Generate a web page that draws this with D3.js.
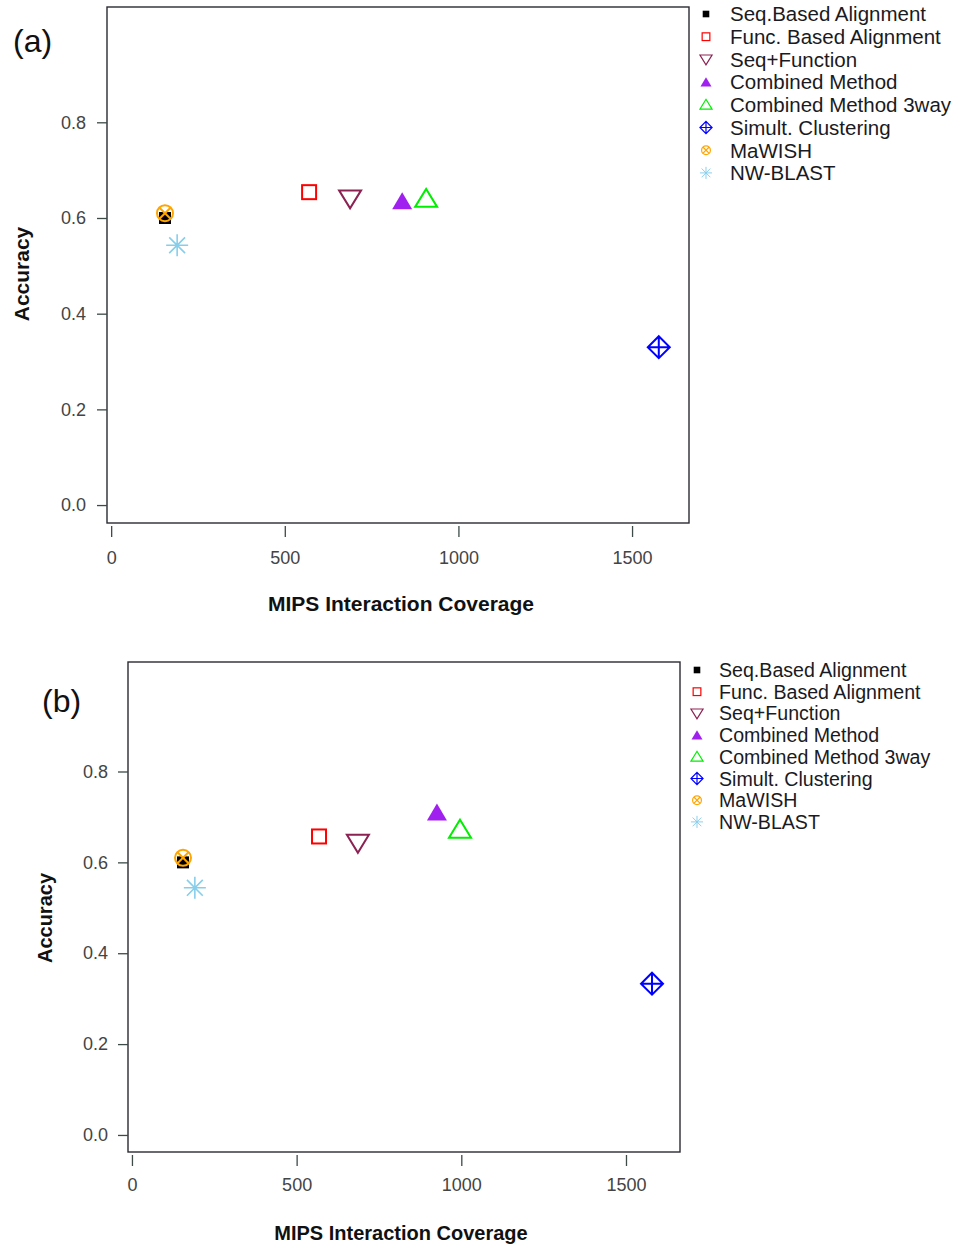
<!DOCTYPE html>
<html>
<head>
<meta charset="utf-8">
<script src="https://cdn.jsdelivr.net/npm/d3@7/dist/d3.min.js"></script>
<style>
  body { margin: 0; background: #fff; }
  svg { display: block; font-family: "Liberation Sans", Arial, sans-serif; }
  .tick text { fill: #444; font-size: 18px; }
  .tick line { stroke: #3d4a48; stroke-width: 1.3; }
</style>
</head>
<body>
<svg id="chart" width="962" height="1248"></svg>
<script>
// Methods, in legend order
const methods = [
  'Seq.Based Alignment', 'Func. Based Alignment', 'Seq+Function', 'Combined Method',
  'Combined Method 3way', 'Simult. Clustering', 'MaWISH', 'NW-BLAST'
];
const symbolTypes = [
  'squareFilled', 'squareOpen', 'triDown', 'triFilled',
  'triOpen', 'diamondPlus', 'circleX', 'asterisk'
];
const methodColors = [
  '#000000', '#ff0000', '#8b2252', '#a020f0',
  '#00ee00', '#0000ff', '#ffa500', '#87ceeb'
];

// panel (a)
const coverageA = [155, 570, 688, 838, 907, 1577, 155, 190];
const accuracyA = [0.600, 0.654, 0.641, 0.635, 0.640, 0.330, 0.610, 0.543];
// panel (b)
const coverageB = [155, 568, 686, 926, 996, 1579, 155, 191];
const accuracyB = [0.600, 0.657, 0.643, 0.710, 0.672, 0.333, 0.610, 0.544];

const xTicks = [0, 500, 1000, 1500];
const yTicks = [0.0, 0.2, 0.4, 0.6, 0.8];
const xLim = [-12, 1664];
const yLim = [-0.0375, 1.041];

const svg = d3.select('#chart');

/**
 * Draw one R-style plotting symbol centred at (0,0), k scales its size.
 */
const drawSymbol = (g, type, color, k) => {
  const sw = 2 * Math.max(k, 0.6);
  if (type === 'squareFilled') {
    g.append('rect').attr('x', -6 * k).attr('y', -6 * k)
      .attr('width', 12 * k).attr('height', 12 * k).attr('fill', color);
  } else if (type === 'squareOpen') {
    g.append('rect').attr('x', -7 * k).attr('y', -7 * k)
      .attr('width', 14 * k).attr('height', 14 * k)
      .attr('fill', 'none').attr('stroke', color).attr('stroke-width', sw);
  } else if (type === 'triDown') {
    g.append('path')
      .attr('d', `M${-11 * k},${-8 * k}L${11 * k},${-8 * k}L0,${10 * k}Z`)
      .attr('fill', 'none').attr('stroke', color).attr('stroke-width', sw);
  } else if (type === 'triFilled') {
    g.append('path')
      .attr('d', `M${-10 * k},${8 * k}L${10 * k},${8 * k}L0,${-9 * k}Z`)
      .attr('fill', color);
  } else if (type === 'triOpen') {
    g.append('path')
      .attr('d', `M${-11 * k},${8 * k}L${11 * k},${8 * k}L0,${-10 * k}Z`)
      .attr('fill', 'none').attr('stroke', color).attr('stroke-width', sw);
  } else if (type === 'diamondPlus') {
    const r = 11 * k;
    g.append('path')
      .attr('d', `M0,${-r}L${r},0L0,${r}L${-r},0Z M0,${-r}L0,${r} M${-r},0L${r},0`)
      .attr('fill', 'none').attr('stroke', color).attr('stroke-width', sw);
  } else if (type === 'circleX') {
    const r = 8 * k, d = r * 0.72;
    g.append('circle').attr('r', r)
      .attr('fill', 'none').attr('stroke', color).attr('stroke-width', sw);
    g.append('path')
      .attr('d', `M${-d},${-d}L${d},${d}M${-d},${d}L${d},${-d}`)
      .attr('stroke', color).attr('stroke-width', sw);
  } else if (type === 'asterisk') {
    const r = 11 * k, d = r * 0.72;
    g.append('path')
      .attr('d', `M0,${-r}L0,${r}M${-r},0L${r},0M${-d},${-d}L${d},${d}M${-d},${d}L${d},${-d}`)
      .attr('stroke', color).attr('stroke-width', sw * 0.8);
  }
};

/**
 * Draw one panel: box, axes, points, labels and legend.
 */
const drawPanel = (p) => {
  const x = d3.scaleLinear().domain(xLim).range([p.left, p.right]);
  const y = d3.scaleLinear().domain(yLim).range([p.bottom, p.top]);

  // Box
  svg.append('rect')
    .attr('x', p.left).attr('y', p.top)
    .attr('width', p.right - p.left).attr('height', p.bottom - p.top)
    .attr('fill', 'none').attr('stroke', '#2a2a33').attr('stroke-width', 1.4);

  // Y axis
  let yAxis = svg.append('g')
    .attr('transform', `translate(${p.left}, 0)`)
    .call(d3.axisLeft(y).tickValues(yTicks).tickSize(10)
      .tickPadding(p.yPad).tickFormat(d3.format('.1f')));
  yAxis.select('.domain').remove();
  yAxis.selectAll('text').attr('font-family', null).attr('font-size', null);

  // X axis (ticks detached from the box, R style)
  let xAxis = svg.append('g')
    .attr('transform', `translate(0, ${p.bottom + 3})`)
    .call(d3.axisBottom(x).tickValues(xTicks).tickSize(11)
      .tickPadding(p.xPad).tickFormat(d3.format('d')));
  xAxis.select('.domain').remove();
  xAxis.selectAll('text').attr('font-family', null).attr('font-size', null);

  // Axis titles
  svg.append('text')
    .attr('x', 401).attr('y', p.xTitleY)
    .attr('text-anchor', 'middle')
    .attr('font-weight', 'bold').attr('font-size', p.titleSize)
    .attr('fill', '#111')
    .text('MIPS Interaction Coverage');

  svg.append('text')
    .attr('transform', `translate(${p.yTitleX}, ${p.yTitleY}) rotate(-90)`)
    .attr('text-anchor', 'middle')
    .attr('font-weight', 'bold').attr('font-size', p.titleSize)
    .attr('fill', '#111')
    .text('Accuracy');

  // Panel letter
  svg.append('text')
    .attr('x', p.letterX).attr('y', p.letterY)
    .attr('font-size', 32).attr('fill', '#111')
    .text(p.letter);

  // Points
  let points = svg.append('g').attr('class', 'points');
  methods.forEach((m, i) => {
    let g = points.append('g')
      .attr('transform', `translate(${x(p.coverage[i])}, ${y(p.accuracy[i])})`);
    drawSymbol(g, symbolTypes[i], methodColors[i], 1);
  });

  // Legend
  let legend = svg.append('g').attr('class', 'legend');
  methods.forEach((m, i) => {
    let cy = p.legendY + i * p.legendStep;
    let g = legend.append('g')
      .attr('transform', `translate(${p.legendMarkX}, ${cy})`);
    drawSymbol(g, symbolTypes[i], methodColors[i], 0.55);
    legend.append('text')
      .attr('x', p.legendTextX).attr('y', cy + p.legendSize * 0.36)
      .attr('font-size', p.legendSize).attr('fill', '#1a1a22')
      .text(m);
  });
};

drawPanel({
  left: 107, right: 689, top: 7, bottom: 523,
  coverage: coverageA, accuracy: accuracyA,
  yPad: 11, xPad: 14,
  xTitleY: 611, yTitleX: 29, yTitleY: 274, titleSize: 21,
  letter: '(a)', letterX: 13, letterY: 52,
  legendY: 14, legendStep: 22.7, legendMarkX: 706, legendTextX: 730, legendSize: 20.5
});

drawPanel({
  left: 128, right: 680, top: 662, bottom: 1152,
  coverage: coverageB, accuracy: accuracyB,
  yPad: 10, xPad: 12,
  xTitleY: 1240, yTitleX: 52, yTitleY: 918, titleSize: 20,
  letter: '(b)', letterX: 42, letterY: 712,
  legendY: 670, legendStep: 21.7, legendMarkX: 697, legendTextX: 719, legendSize: 19.6
});
</script>
</body>
</html>
